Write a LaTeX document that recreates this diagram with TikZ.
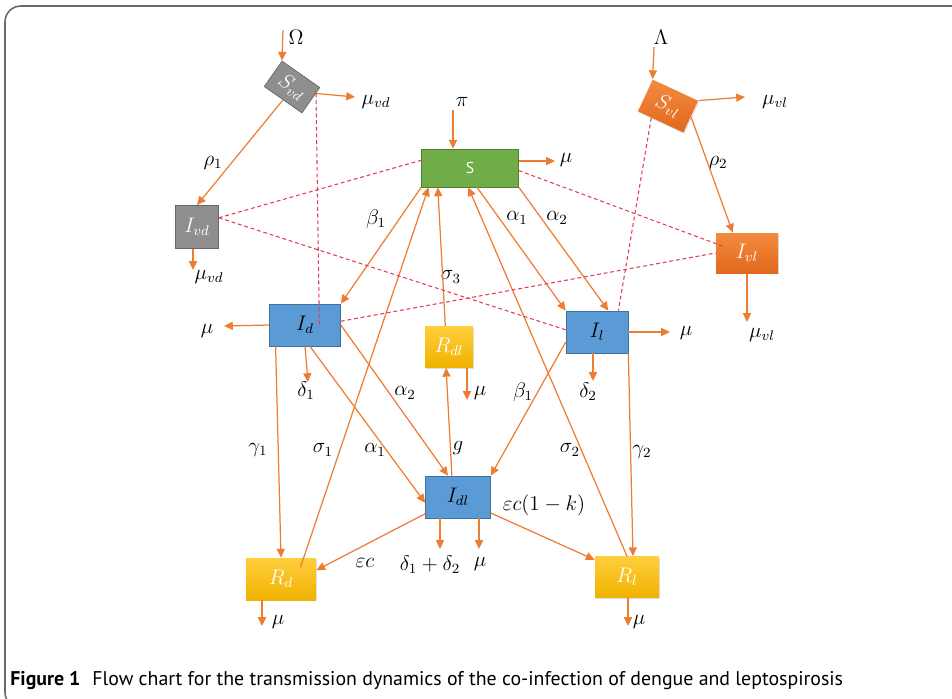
\documentclass[tikz,border=0pt]{standalone}
\usepackage{fontspec}
\newfontfamily\capfont{PT Sans}
\usepackage{tikz}
\usetikzlibrary{arrows.meta,calc,shadows}
\definecolor{flow}{HTML}{ED7D31}
\definecolor{dashred}{HTML}{E23C4F}
\definecolor{greyfill}{HTML}{8E8E8E}
\definecolor{greyline}{HTML}{686868}
\definecolor{greenfill}{HTML}{70AD47}
\definecolor{greenline}{HTML}{507E32}
\definecolor{bluefill}{HTML}{5B9BD5}
\definecolor{blueline}{HTML}{41719C}
\definecolor{yellowtop}{HTML}{FFCE3C}
\definecolor{yellowbot}{HTML}{F0B200}
\definecolor{orangetop}{HTML}{F38C40}
\definecolor{orangebot}{HTML}{E2671C}
\definecolor{framegrey}{HTML}{6A6A6A}

\begin{document}
\begin{tikzpicture}[
    x=0.02cm, y=-0.02cm,
    box/.style={rectangle, inner sep=0pt, font=\fontsize{11.5}{13}\selectfont},
    greybox/.style={box, draw=greyline, fill=greyfill, text=white},
    orangebox/.style={box, top color=orangetop, bottom color=orangebot, text=white,
        drop shadow={opacity=0.25, shadow xshift=0.6pt, shadow yshift=-0.8pt}},
    greenbox/.style={box, draw=greenline, fill=greenfill, text=white},
    bluebox/.style={box, draw=blueline, fill=bluefill, text=black},
    yellowbox/.style={box, top color=yellowtop, bottom color=yellowbot, text=white,
        drop shadow={opacity=0.25, shadow xshift=0.6pt, shadow yshift=-0.8pt}},
    rate/.style={font=\fontsize{11.5}{13}\selectfont, inner sep=1pt},
    arrow/.style={-{Triangle[length=5pt,width=4.6pt]}, draw=flow, line width=0.7pt},
    contact/.style={draw=dashred, dashed, dash pattern=on 2.2pt off 1.6pt, line width=0.6pt},
]
    \useasboundingbox (0,0) rectangle (952,698);
    \draw[framegrey, line width=0.9pt, rounded corners=9] (960,6) -- (5,6) -- (5,708) -- (40,708);

    % Compartments
    \node[greybox, rotate=-35, minimum width=0.92cm, minimum height=0.62cm] (Svd) at (292,87) {$S_{vd}$};
    \node[greybox, minimum width=0.86cm, minimum height=0.86cm] (Ivd) at (197,227) {$I_{vd}$};
    \node[orangebox, rotate=-25, minimum width=1.0cm, minimum height=0.7cm] (Svl) at (668,106) {$S_{vl}$};
    \node[orangebox, minimum width=1.24cm, minimum height=0.8cm] (Ivl) at (747,253) {$I_{vl}$};
    \node[greenbox, minimum width=1.94cm, minimum height=0.76cm] (S) at (470,168) {\capfont\fontsize{9}{11}\selectfont S};
    \node[bluebox, minimum width=1.42cm, minimum height=0.84cm] (Id) at (305,325) {$I_d$};
    \node[yellowbox, minimum width=0.96cm, minimum height=0.82cm] (Rdl) at (449,347) {$R_{dl}$};
    \node[bluebox, minimum width=1.24cm, minimum height=0.84cm] (Il) at (597,332) {$I_l$};
    \node[bluebox, minimum width=1.30cm, minimum height=0.84cm] (Idl) at (458,497) {$I_{dl}$};
    \node[yellowbox, minimum width=1.40cm, minimum height=0.84cm] (Rd) at (281,579) {$R_d$};
    \node[yellowbox, minimum width=1.28cm, minimum height=0.82cm] (Rl) at (627,577) {$R_l$};

    % Rates
    \node[rate] (Omega) at (296,37) {$\Omega$};
    \node[rate] (Lambda) at (661,37) {$\Lambda$};
    \node[rate] (pi) at (462,102) {$\pi$};
    \node[rate] (muvdA) at (376,102) {$\mu_{vd}$};
    \node[rate] (muvlA) at (775,102) {$\mu_{vl}$};
    \node[rate] (muS) at (566,160) {$\mu$};
    \node[rate] (rho1) at (213,163) {$\rho_1$};
    \node[rate] (rho2) at (718,163) {$\rho_2$};
    \node[rate] (betaA) at (376,219) {$\beta_1$};
    \node[rate] (alphaA) at (517,218) {$\alpha_1$};
    \node[rate] (alphaB) at (557,218) {$\alpha_2$};
    \node[rate] (sigma3) at (451,277) {$\sigma_3$};
    \node[rate] (muvdB) at (209,277) {$\mu_{vd}$};
    \node[rate] (muvlB) at (762,335) {$\mu_{vl}$};
    \node[rate] (muId) at (207,331) {$\mu$};
    \node[rate] (muIl) at (686,333) {$\mu$};
    \node[rate] (delta1) at (306,391) {$\delta_1$};
    \node[rate] (muRdl) at (480,393) {$\mu$};
    \node[rate] (delta2) at (588,392) {$\delta_2$};
    \node[rate] (alphaC) at (405,393) {$\alpha_2$};
    \node[rate] (betaB) at (523,392) {$\beta_1$};
    \node[rate] (gamma1) at (258,450) {$\gamma_1$};
    \node[rate] (sigma1) at (323,450) {$\sigma_1$};
    \node[rate] (alphaD) at (375,450) {$\alpha_1$};
    \node[rate] (g) at (458,448) {$g$};
    \node[rate] (sigma2) at (570,450) {$\sigma_2$};
    \node[rate] (gamma2) at (642,452) {$\gamma_2$};
    \node[rate] (eck) at (544,505) {$\varepsilon c(1-k)$};
    \node[rate] (ec) at (365,563) {$\varepsilon c$};
    \node[rate] (deltas) at (430,565) {$\delta_1+\delta_2$};
    \node[rate] (muIdl) at (480,564) {$\mu$};
    \node[rate] (muRd) at (278,622) {$\mu$};
    \node[rate] (muRl) at (639,622) {$\mu$};

    % Inflow starts and outflow ends
    \coordinate (inSvd) at (283,30);
    \coordinate (inSvl) at (654,47);
    \coordinate (inS) at (453,110);
    \coordinate (oSvd) at (355,97);
    \coordinate (oSvl) at (745,97);
    \coordinate (oS) at (555,161);
    \coordinate (oIvd) at (193,270);
    \coordinate (oIvl) at (747,322);
    \coordinate (oId) at (224,326);
    \coordinate (oIdd) at (308,382);
    \coordinate (oRdl) at (467,400);
    \coordinate (oIl) at (670,332);
    \coordinate (oIld) at (593,381);
    \coordinate (oIdlA) at (440,549);
    \coordinate (oIdlB) at (479,549);
    \coordinate (oRd) at (262,626);
    \coordinate (oRl) at (628,626);

    % Vector compartments
    \draw[arrow] (inSvd) -- (Svd.north west);
    \draw[arrow] (Svd.20) -- (oSvd);
    \draw[arrow] (Svd.south) -- (Ivd.north);
    \draw[arrow] (Ivd.south -| oIvd) -- (oIvd);
    \draw[arrow] (inSvl) -- (Svl.north west);
    \draw[arrow] (Svl.north east) -- (oSvl);
    \draw[arrow] (Svl.east) -- (Ivl.125);
    \draw[arrow] (Ivl.south) -- (oIvl);

    % Human compartments
    \draw[arrow] (inS) -- (inS |- S.north);
    \draw[arrow] (S.east |- oS) -- (oS);
    \draw[arrow] (S.south west) -- (Id.north east);
    \draw[arrow] (S.-70) -- (Il.north west);
    \draw[arrow] (S.south east) -- (Il.62);
    \draw[arrow] ($(Rd.center)!0.55!(Rd.north east)$) -- (S.205);
    \draw[arrow] (Rdl.100) -- (S.211);
    \draw[arrow] (Rl.north) -- (S.265);
    \draw[arrow] (Id.west) -- (oId);
    \draw[arrow] (Id.south) -- (oIdd);
    \draw[arrow] (Id.216) -- (Rd.north);
    \draw[arrow] (Id.-77) -- (Idl.190);
    \draw[arrow] (Id.east) -- (Idl.115);
    \draw[arrow] (Idl.106) -- (Rdl.262);
    \draw[arrow] (Rdl.south -| oRdl) -- (oRdl);
    \draw[arrow] (Il.east) -- (oIl);
    \draw[arrow] (Il.south -| oIld) -- (oIld);
    \draw[arrow] (Il.198) -- (Idl.north east);
    \draw[arrow] (Il.south east) -- (Rl.74);
    \draw[arrow] (Idl.207) -- (Rd.14);
    \draw[arrow] (Idl.-26) -- (Rl.152);
    \draw[arrow] (Idl.south -| oIdlA) -- (oIdlA);
    \draw[arrow] (Idl.south -| oIdlB) -- (oIdlB);
    \draw[arrow] (Rd.south -| oRd) -- (oRd);
    \draw[arrow] (Rl.south -| oRl) -- (oRl);

    % Contacts
    \draw[contact] (Svd.20) -- ($(Id.center)!0.4!(Id.east)$);
    \draw[contact] (Ivd.23) -- (S.171);
    \draw[contact] (Ivd.23) -- (Il.176);
    \draw[contact] (S.-3) -- ([shift={(-22,-6)}]Ivl.center);
    \draw[contact] (Id.6) -- (Ivl.west);
    \draw[contact] ($(Svl.south west)!0.6!(Svl.south)$) -- (Il.45);

    % Caption
    \node[anchor=west, inner sep=0pt] (caption) at (10,681)
        {\capfont\fontsize{11.3}{13}\selectfont\textbf{Figure 1}\hspace{0.6em}Flow chart for the transmission dynamics of the co-infection of dengue and leptospirosis};
\end{tikzpicture}
\end{document}
